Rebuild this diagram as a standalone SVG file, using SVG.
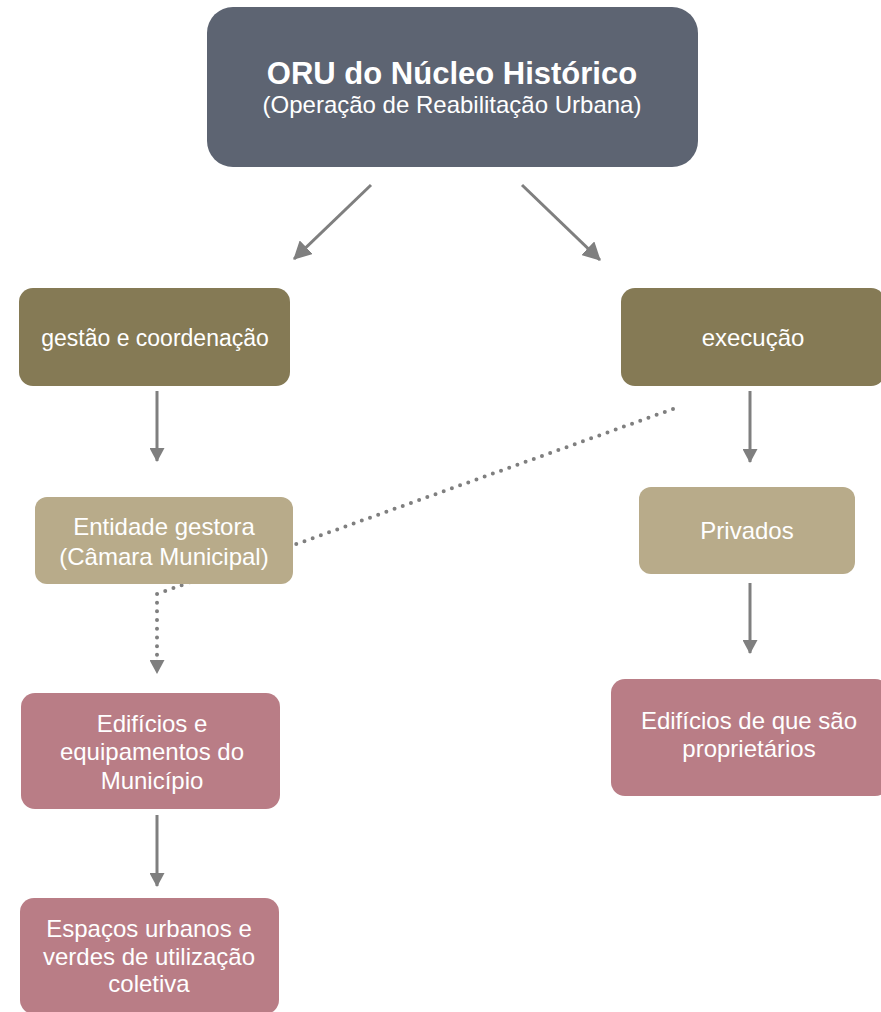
<svg xmlns="http://www.w3.org/2000/svg" width="881" height="1012" viewBox="0 0 881 1012">
<defs>
<style>
.t{font-family:"Liberation Sans",Arial,sans-serif;fill:#ffffff;text-anchor:middle}
.b{font-size:24px}
.ln{stroke:#7f7f7f;stroke-width:3;fill:none}
.dot{stroke:#7f7f7f;stroke-width:4;fill:none;stroke-linecap:round;stroke-dasharray:0 8.7}
</style>
<marker id="ah" viewBox="0 0 14 15" refX="13" refY="7.5" markerWidth="14" markerHeight="15" markerUnits="userSpaceOnUse" orient="auto">
<path d="M0,0 L14,7.5 L0,15 Z" fill="#7f7f7f"/>
</marker>
<marker id="ahb" viewBox="0 0 18 19" refX="17" refY="9.5" markerWidth="18" markerHeight="19" markerUnits="userSpaceOnUse" orient="auto">
<path d="M0,0 L18,9.5 L0,19 Z" fill="#7f7f7f"/>
</marker>
</defs>
<rect width="881" height="1012" fill="#ffffff"/>
<g id="connectors">
<line class="ln" x1="371" y1="185" x2="294" y2="259" marker-end="url(#ahb)"/>
<line class="ln" x1="522" y1="185" x2="600" y2="260" marker-end="url(#ahb)"/>
<line class="ln" x1="157" y1="391" x2="157" y2="461" marker-end="url(#ah)"/>
<line class="ln" x1="750" y1="391" x2="750" y2="462" marker-end="url(#ah)"/>
<line class="ln" x1="750" y1="583" x2="750" y2="653" marker-end="url(#ah)"/>
<line class="ln" x1="157" y1="815" x2="157" y2="886" marker-end="url(#ah)"/>
<polyline class="dot" points="673,409 157,594 157,660"/>
<line x1="157" y1="655" x2="157" y2="673" stroke="#7f7f7f" stroke-width="0.1" marker-end="url(#ah)"/>
</g>
<g id="n-oru">
<rect x="207" y="7" width="491" height="160" rx="26" fill="#5d6472"/>
<text class="t" x="452" y="84" font-size="31" font-weight="bold">ORU do Núcleo Histórico</text>
<text class="t" x="452" y="113" font-size="24">(Operação de Reabilitação Urbana)</text>
</g>
<g id="n-gestao">
<rect x="19" y="288" width="271" height="98" rx="14" fill="#857a55"/>
<text class="t" x="155" y="346" font-size="23">gestão e coordenação</text>
</g>
<g id="n-execucao">
<rect x="621" y="288" width="264" height="98" rx="14" fill="#857a55"/>
<text class="t b" x="753" y="346">execução</text>
</g>
<g id="n-entidade">
<rect x="35" y="497" width="258" height="87" rx="12" fill="#b8ab8a"/>
<text class="t b" x="164" y="535">Entidade gestora</text>
<text class="t b" x="164" y="565">(Câmara Municipal)</text>
</g>
<g id="n-privados">
<rect x="639" y="487" width="216" height="87" rx="12" fill="#b8ab8a"/>
<text class="t b" x="747" y="539">Privados</text>
</g>
<g id="n-edificios-mun">
<rect x="21" y="693" width="259" height="116" rx="14" fill="#b97d86"/>
<text class="t b" x="152" y="732">Edifícios e</text>
<text class="t b" x="152" y="760">equipamentos do</text>
<text class="t b" x="152" y="789">Município</text>
</g>
<g id="n-espacos">
<rect x="20" y="898" width="259" height="116" rx="14" fill="#b97d86"/>
<text class="t b" x="149" y="937">Espaços urbanos e</text>
<text class="t b" x="149" y="965">verdes de utilização</text>
<text class="t b" x="149" y="992">coletiva</text>
</g>
<g id="n-edificios-prop">
<rect x="611" y="679" width="278" height="117" rx="14" fill="#b97d86"/>
<text class="t b" x="749" y="729">Edifícios de que são</text>
<text class="t b" x="749" y="757">proprietários</text>
</g>
</svg>
